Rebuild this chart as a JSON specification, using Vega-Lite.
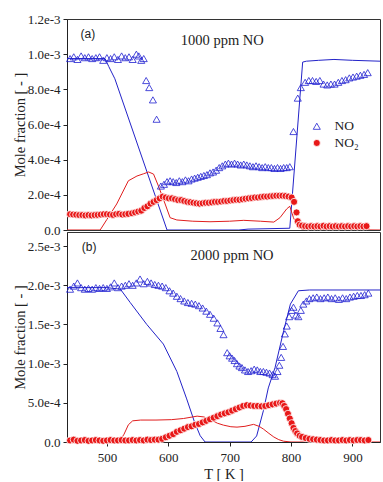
{
  "$schema": "https://vega.github.io/schema/vega-lite/v6.json",
  "padding": {"left": 11, "top": 12, "right": 0, "bottom": 0},
  "background": "white",
  "spacing": 2,
  "bounds": "flush",
  "config": {
    "view": {"stroke": "#333", "strokeWidth": 1},
    "axis": {"labelFont": "Liberation Serif", "titleFont": "Liberation Serif", "labelFontSize": 13, "titleFontSize": 14.5, "titleFontWeight": "normal", "labelColor": "#222", "titleColor": "#222", "domainColor": "#222", "tickColor": "#222", "grid": false, "tickSize": 4}
  },
  "resolve": {
    "scale": {"fill": "independent", "stroke": "independent", "shape": "independent", "color": "independent"}
  },
  "datasets": {
    "aM": [
      {"s":"NO","T":435,"v":0.975e-3},{"s":"NO","T":497,"v":0.975e-3},{"s":"NO","T":503,"v":0.93e-3},{"s":"NO","T":513,"v":0.86e-3},{"s":"NO","T":598,"v":0},{"s":"NO","T":715,"v":0},{"s":"NO","T":730,"v":0.005e-3},{"s":"NO","T":798,"v":0.01e-3},{"s":"NO","T":819,"v":0.955e-3},{"s":"NO","T":825,"v":0.96e-3},{"s":"NO","T":845,"v":0.965e-3},{"s":"NO","T":870,"v":0.97e-3},{"s":"NO","T":900,"v":0.965e-3},{"s":"NO","T":945,"v":0.96e-3},
      {"s":"NO₂","T":435,"v":0},{"s":"NO₂","T":489,"v":0},{"s":"NO₂","T":500,"v":0.06e-3},{"s":"NO₂","T":516,"v":0.148e-3},{"s":"NO₂","T":535,"v":0.28e-3},{"s":"NO₂","T":549,"v":0.307e-3},{"s":"NO₂","T":560,"v":0.32e-3},{"s":"NO₂","T":568,"v":0.33e-3},{"s":"NO₂","T":576,"v":0.318e-3},{"s":"NO₂","T":584,"v":0.25e-3},{"s":"NO₂","T":592,"v":0.176e-3},{"s":"NO₂","T":603,"v":0.07e-3},{"s":"NO₂","T":614,"v":0.057e-3},{"s":"NO₂","T":640,"v":0.05e-3},{"s":"NO₂","T":668,"v":0.047e-3},{"s":"NO₂","T":700,"v":0.05e-3},{"s":"NO₂","T":723,"v":0.055e-3},{"s":"NO₂","T":750,"v":0.05e-3},{"s":"NO₂","T":772,"v":0.045e-3},{"s":"NO₂","T":782,"v":0.07e-3},{"s":"NO₂","T":793,"v":0.12e-3},{"s":"NO₂","T":798,"v":0.135e-3},{"s":"NO₂","T":804,"v":0.07e-3},{"s":"NO₂","T":812,"v":0.013e-3},{"s":"NO₂","T":820,"v":0.003e-3},{"s":"NO₂","T":945,"v":0}
    ],
    "aE": [
      {"s":"NO","T":440,"v":0.975e-3},{"s":"NO","T":446,"v":0.985e-3},{"s":"NO","T":452,"v":0.97e-3},{"s":"NO","T":458,"v":0.99e-3},{"s":"NO","T":464,"v":0.98e-3},{"s":"NO","T":470,"v":0.985e-3},{"s":"NO","T":476,"v":0.975e-3},{"s":"NO","T":482,"v":0.98e-3},{"s":"NO","T":488,"v":0.985e-3},{"s":"NO","T":494,"v":0.965e-3},{"s":"NO","T":500,"v":0.98e-3},{"s":"NO","T":506,"v":0.975e-3},{"s":"NO","T":512,"v":0.985e-3},{"s":"NO","T":518,"v":0.97e-3},{"s":"NO","T":524,"v":0.99e-3},{"s":"NO","T":530,"v":0.98e-3},{"s":"NO","T":536,"v":0.985e-3},{"s":"NO","T":542,"v":0.97e-3},{"s":"NO","T":548,"v":1.0e-3},{"s":"NO","T":552,"v":0.99e-3},{"s":"NO","T":556,"v":0.965e-3},{"s":"NO","T":560,"v":0.975e-3},{"s":"NO","T":564,"v":0.85e-3},{"s":"NO","T":569,"v":0.81e-3},{"s":"NO","T":575,"v":0.74e-3},{"s":"NO","T":581,"v":0.63e-3},{"s":"NO","T":588,"v":0.25e-3},{"s":"NO","T":593,"v":0.26e-3},{"s":"NO","T":598,"v":0.275e-3},{"s":"NO","T":603,"v":0.28e-3},{"s":"NO","T":608,"v":0.275e-3},{"s":"NO","T":613,"v":0.27e-3},{"s":"NO","T":618,"v":0.28e-3},{"s":"NO","T":623,"v":0.275e-3},{"s":"NO","T":628,"v":0.285e-3},{"s":"NO","T":633,"v":0.28e-3},{"s":"NO","T":638,"v":0.29e-3},{"s":"NO","T":643,"v":0.295e-3},{"s":"NO","T":648,"v":0.3e-3},{"s":"NO","T":653,"v":0.305e-3},{"s":"NO","T":658,"v":0.31e-3},{"s":"NO","T":663,"v":0.315e-3},{"s":"NO","T":668,"v":0.325e-3},{"s":"NO","T":673,"v":0.33e-3},{"s":"NO","T":678,"v":0.34e-3},{"s":"NO","T":683,"v":0.355e-3},{"s":"NO","T":688,"v":0.365e-3},{"s":"NO","T":693,"v":0.375e-3},{"s":"NO","T":698,"v":0.38e-3},{"s":"NO","T":703,"v":0.375e-3},{"s":"NO","T":708,"v":0.38e-3},{"s":"NO","T":713,"v":0.375e-3},{"s":"NO","T":718,"v":0.37e-3},{"s":"NO","T":723,"v":0.375e-3},{"s":"NO","T":728,"v":0.37e-3},{"s":"NO","T":733,"v":0.365e-3},{"s":"NO","T":738,"v":0.36e-3},{"s":"NO","T":743,"v":0.365e-3},{"s":"NO","T":748,"v":0.36e-3},{"s":"NO","T":753,"v":0.355e-3},{"s":"NO","T":758,"v":0.36e-3},{"s":"NO","T":763,"v":0.355e-3},{"s":"NO","T":768,"v":0.355e-3},{"s":"NO","T":773,"v":0.35e-3},{"s":"NO","T":778,"v":0.355e-3},{"s":"NO","T":783,"v":0.35e-3},{"s":"NO","T":788,"v":0.355e-3},{"s":"NO","T":793,"v":0.355e-3},{"s":"NO","T":798,"v":0.36e-3},{"s":"NO","T":804,"v":0.56e-3},{"s":"NO","T":811,"v":0.75e-3},{"s":"NO","T":816,"v":0.81e-3},{"s":"NO","T":823,"v":0.84e-3},{"s":"NO","T":829,"v":0.85e-3},{"s":"NO","T":835,"v":0.85e-3},{"s":"NO","T":841,"v":0.845e-3},{"s":"NO","T":847,"v":0.85e-3},{"s":"NO","T":853,"v":0.83e-3},{"s":"NO","T":859,"v":0.825e-3},{"s":"NO","T":865,"v":0.83e-3},{"s":"NO","T":871,"v":0.83e-3},{"s":"NO","T":877,"v":0.84e-3},{"s":"NO","T":883,"v":0.85e-3},{"s":"NO","T":889,"v":0.855e-3},{"s":"NO","T":895,"v":0.865e-3},{"s":"NO","T":901,"v":0.87e-3},{"s":"NO","T":907,"v":0.875e-3},{"s":"NO","T":913,"v":0.88e-3},{"s":"NO","T":919,"v":0.885e-3},{"s":"NO","T":925,"v":0.895e-3},
      {"s":"NO₂","T":440,"v":0.09e-3},{"s":"NO₂","T":445,"v":0.088e-3},{"s":"NO₂","T":450,"v":0.087e-3},{"s":"NO₂","T":455,"v":0.085e-3},{"s":"NO₂","T":460,"v":0.085e-3},{"s":"NO₂","T":465,"v":0.083e-3},{"s":"NO₂","T":470,"v":0.085e-3},{"s":"NO₂","T":475,"v":0.083e-3},{"s":"NO₂","T":480,"v":0.085e-3},{"s":"NO₂","T":485,"v":0.086e-3},{"s":"NO₂","T":490,"v":0.088e-3},{"s":"NO₂","T":495,"v":0.09e-3},{"s":"NO₂","T":500,"v":0.09e-3},{"s":"NO₂","T":505,"v":0.088e-3},{"s":"NO₂","T":510,"v":0.086e-3},{"s":"NO₂","T":515,"v":0.09e-3},{"s":"NO₂","T":520,"v":0.092e-3},{"s":"NO₂","T":525,"v":0.088e-3},{"s":"NO₂","T":530,"v":0.09e-3},{"s":"NO₂","T":535,"v":0.092e-3},{"s":"NO₂","T":541,"v":0.095e-3},{"s":"NO₂","T":546,"v":0.1e-3},{"s":"NO₂","T":551,"v":0.105e-3},{"s":"NO₂","T":556,"v":0.11e-3},{"s":"NO₂","T":561,"v":0.125e-3},{"s":"NO₂","T":566,"v":0.135e-3},{"s":"NO₂","T":571,"v":0.15e-3},{"s":"NO₂","T":576,"v":0.16e-3},{"s":"NO₂","T":581,"v":0.17e-3},{"s":"NO₂","T":586,"v":0.18e-3},{"s":"NO₂","T":591,"v":0.19e-3},{"s":"NO₂","T":596,"v":0.185e-3},{"s":"NO₂","T":601,"v":0.18e-3},{"s":"NO₂","T":606,"v":0.18e-3},{"s":"NO₂","T":611,"v":0.175e-3},{"s":"NO₂","T":616,"v":0.17e-3},{"s":"NO₂","T":621,"v":0.17e-3},{"s":"NO₂","T":626,"v":0.165e-3},{"s":"NO₂","T":631,"v":0.16e-3},{"s":"NO₂","T":636,"v":0.158e-3},{"s":"NO₂","T":641,"v":0.155e-3},{"s":"NO₂","T":646,"v":0.152e-3},{"s":"NO₂","T":651,"v":0.15e-3},{"s":"NO₂","T":656,"v":0.152e-3},{"s":"NO₂","T":661,"v":0.155e-3},{"s":"NO₂","T":666,"v":0.155e-3},{"s":"NO₂","T":671,"v":0.157e-3},{"s":"NO₂","T":676,"v":0.16e-3},{"s":"NO₂","T":681,"v":0.16e-3},{"s":"NO₂","T":686,"v":0.162e-3},{"s":"NO₂","T":691,"v":0.165e-3},{"s":"NO₂","T":696,"v":0.165e-3},{"s":"NO₂","T":701,"v":0.168e-3},{"s":"NO₂","T":706,"v":0.17e-3},{"s":"NO₂","T":711,"v":0.172e-3},{"s":"NO₂","T":716,"v":0.172e-3},{"s":"NO₂","T":721,"v":0.175e-3},{"s":"NO₂","T":726,"v":0.178e-3},{"s":"NO₂","T":731,"v":0.18e-3},{"s":"NO₂","T":736,"v":0.182e-3},{"s":"NO₂","T":741,"v":0.185e-3},{"s":"NO₂","T":746,"v":0.185e-3},{"s":"NO₂","T":751,"v":0.188e-3},{"s":"NO₂","T":756,"v":0.19e-3},{"s":"NO₂","T":761,"v":0.19e-3},{"s":"NO₂","T":766,"v":0.192e-3},{"s":"NO₂","T":771,"v":0.193e-3},{"s":"NO₂","T":776,"v":0.195e-3},{"s":"NO₂","T":781,"v":0.195e-3},{"s":"NO₂","T":786,"v":0.195e-3},{"s":"NO₂","T":791,"v":0.193e-3},{"s":"NO₂","T":796,"v":0.19e-3},{"s":"NO₂","T":801,"v":0.185e-3},{"s":"NO₂","T":805,"v":0.16e-3},{"s":"NO₂","T":809,"v":0.1e-3},{"s":"NO₂","T":811,"v":0.05e-3},{"s":"NO₂","T":814,"v":0.03e-3},{"s":"NO₂","T":818,"v":0.025e-3},{"s":"NO₂","T":823,"v":0.022e-3},{"s":"NO₂","T":828,"v":0.02e-3},{"s":"NO₂","T":833,"v":0.022e-3},{"s":"NO₂","T":838,"v":0.02e-3},{"s":"NO₂","T":843,"v":0.022e-3},{"s":"NO₂","T":848,"v":0.02e-3},{"s":"NO₂","T":853,"v":0.024e-3},{"s":"NO₂","T":858,"v":0.02e-3},{"s":"NO₂","T":863,"v":0.022e-3},{"s":"NO₂","T":868,"v":0.02e-3},{"s":"NO₂","T":873,"v":0.022e-3},{"s":"NO₂","T":878,"v":0.02e-3},{"s":"NO₂","T":883,"v":0.022e-3},{"s":"NO₂","T":888,"v":0.02e-3},{"s":"NO₂","T":893,"v":0.022e-3},{"s":"NO₂","T":898,"v":0.02e-3},{"s":"NO₂","T":903,"v":0.022e-3},{"s":"NO₂","T":908,"v":0.02e-3},{"s":"NO₂","T":913,"v":0.022e-3},{"s":"NO₂","T":918,"v":0.02e-3},{"s":"NO₂","T":923,"v":0.022e-3}
    ],
    "aL": [{"s":"NO","T":842,"v":0.59e-3},{"s":"NO₂","T":842,"v":0.495e-3}],
    "aLT": [{"T":871,"v":0.59e-3,"label":"NO"},{"T":871,"v":0.495e-3,"label":"NO₂"}],
    "bM": [
      {"s":"NO","T":435,"v":1.97e-3},{"s":"NO","T":500,"v":1.97e-3},{"s":"NO","T":522,"v":1.95e-3},{"s":"NO","T":538,"v":1.78e-3},{"s":"NO","T":565,"v":1.5e-3},{"s":"NO","T":592,"v":1.25e-3},{"s":"NO","T":614,"v":0.9e-3},{"s":"NO","T":630,"v":0.55e-3},{"s":"NO","T":643,"v":0.25e-3},{"s":"NO","T":652,"v":0.08e-3},{"s":"NO","T":660,"v":0},{"s":"NO","T":735,"v":0},{"s":"NO","T":744,"v":0.077e-3},{"s":"NO","T":755,"v":0.4e-3},{"s":"NO","T":763,"v":0.69e-3},{"s":"NO","T":774,"v":0.95e-3},{"s":"NO","T":788,"v":1.42e-3},{"s":"NO","T":799,"v":1.76e-3},{"s":"NO","T":812,"v":1.93e-3},{"s":"NO","T":830,"v":1.94e-3},{"s":"NO","T":945,"v":1.94e-3},
      {"s":"NO₂","T":435,"v":0},{"s":"NO₂","T":520,"v":0},{"s":"NO₂","T":528,"v":0.1e-3},{"s":"NO₂","T":535,"v":0.22e-3},{"s":"NO₂","T":542,"v":0.27e-3},{"s":"NO₂","T":555,"v":0.28e-3},{"s":"NO₂","T":580,"v":0.28e-3},{"s":"NO₂","T":605,"v":0.285e-3},{"s":"NO₂","T":625,"v":0.3e-3},{"s":"NO₂","T":647,"v":0.33e-3},{"s":"NO₂","T":658,"v":0.32e-3},{"s":"NO₂","T":668,"v":0.29e-3},{"s":"NO₂","T":680,"v":0.24e-3},{"s":"NO₂","T":690,"v":0.215e-3},{"s":"NO₂","T":702,"v":0.195e-3},{"s":"NO₂","T":712,"v":0.19e-3},{"s":"NO₂","T":725,"v":0.2e-3},{"s":"NO₂","T":739,"v":0.225e-3},{"s":"NO₂","T":748,"v":0.2e-3},{"s":"NO₂","T":755,"v":0.165e-3},{"s":"NO₂","T":764,"v":0.11e-3},{"s":"NO₂","T":772,"v":0.064e-3},{"s":"NO₂","T":780,"v":0.03e-3},{"s":"NO₂","T":788,"v":0.01e-3},{"s":"NO₂","T":800,"v":0},{"s":"NO₂","T":945,"v":0}
    ],
    "bE": [
      {"s":"NO","T":440,"v":1.95e-3},{"s":"NO","T":446,"v":1.99e-3},{"s":"NO","T":452,"v":2.03e-3},{"s":"NO","T":458,"v":1.97e-3},{"s":"NO","T":464,"v":1.95e-3},{"s":"NO","T":470,"v":1.96e-3},{"s":"NO","T":476,"v":1.95e-3},{"s":"NO","T":482,"v":1.97e-3},{"s":"NO","T":488,"v":1.96e-3},{"s":"NO","T":494,"v":1.97e-3},{"s":"NO","T":500,"v":1.96e-3},{"s":"NO","T":506,"v":1.98e-3},{"s":"NO","T":512,"v":2.03e-3},{"s":"NO","T":518,"v":1.97e-3},{"s":"NO","T":524,"v":1.99e-3},{"s":"NO","T":530,"v":2.0e-3},{"s":"NO","T":536,"v":2.02e-3},{"s":"NO","T":542,"v":2.0e-3},{"s":"NO","T":548,"v":2.03e-3},{"s":"NO","T":554,"v":2.08e-3},{"s":"NO","T":560,"v":2.02e-3},{"s":"NO","T":566,"v":2.05e-3},{"s":"NO","T":572,"v":2.03e-3},{"s":"NO","T":578,"v":2.01e-3},{"s":"NO","T":584,"v":2.0e-3},{"s":"NO","T":590,"v":1.99e-3},{"s":"NO","T":596,"v":1.97e-3},{"s":"NO","T":602,"v":1.93e-3},{"s":"NO","T":608,"v":1.9e-3},{"s":"NO","T":614,"v":1.86e-3},{"s":"NO","T":620,"v":1.83e-3},{"s":"NO","T":626,"v":1.8e-3},{"s":"NO","T":632,"v":1.78e-3},{"s":"NO","T":638,"v":1.77e-3},{"s":"NO","T":644,"v":1.76e-3},{"s":"NO","T":650,"v":1.74e-3},{"s":"NO","T":656,"v":1.71e-3},{"s":"NO","T":662,"v":1.67e-3},{"s":"NO","T":668,"v":1.63e-3},{"s":"NO","T":674,"v":1.58e-3},{"s":"NO","T":680,"v":1.52e-3},{"s":"NO","T":685,"v":1.45e-3},{"s":"NO","T":690,"v":1.37e-3},{"s":"NO","T":696,"v":1.14e-3},{"s":"NO","T":700,"v":1.1e-3},{"s":"NO","T":704,"v":1.07e-3},{"s":"NO","T":708,"v":1.04e-3},{"s":"NO","T":712,"v":1.0e-3},{"s":"NO","T":716,"v":0.97e-3},{"s":"NO","T":720,"v":0.95e-3},{"s":"NO","T":725,"v":0.92e-3},{"s":"NO","T":730,"v":0.9e-3},{"s":"NO","T":735,"v":0.91e-3},{"s":"NO","T":740,"v":0.93e-3},{"s":"NO","T":745,"v":0.92e-3},{"s":"NO","T":750,"v":0.9e-3},{"s":"NO","T":755,"v":0.9e-3},{"s":"NO","T":760,"v":0.89e-3},{"s":"NO","T":765,"v":0.88e-3},{"s":"NO","T":770,"v":0.86e-3},{"s":"NO","T":774,"v":0.84e-3},{"s":"NO","T":778,"v":0.9e-3},{"s":"NO","T":781,"v":0.98e-3},{"s":"NO","T":784,"v":1.08e-3},{"s":"NO","T":787,"v":1.22e-3},{"s":"NO","T":790,"v":1.38e-3},{"s":"NO","T":793,"v":1.48e-3},{"s":"NO","T":797,"v":1.6e-3},{"s":"NO","T":801,"v":1.68e-3},{"s":"NO","T":804,"v":1.72e-3},{"s":"NO","T":808,"v":1.62e-3},{"s":"NO","T":812,"v":1.6e-3},{"s":"NO","T":816,"v":1.68e-3},{"s":"NO","T":820,"v":1.76e-3},{"s":"NO","T":825,"v":1.8e-3},{"s":"NO","T":830,"v":1.83e-3},{"s":"NO","T":836,"v":1.84e-3},{"s":"NO","T":842,"v":1.85e-3},{"s":"NO","T":848,"v":1.83e-3},{"s":"NO","T":854,"v":1.84e-3},{"s":"NO","T":860,"v":1.85e-3},{"s":"NO","T":866,"v":1.83e-3},{"s":"NO","T":872,"v":1.84e-3},{"s":"NO","T":878,"v":1.82e-3},{"s":"NO","T":884,"v":1.84e-3},{"s":"NO","T":890,"v":1.83e-3},{"s":"NO","T":896,"v":1.85e-3},{"s":"NO","T":902,"v":1.86e-3},{"s":"NO","T":908,"v":1.87e-3},{"s":"NO","T":914,"v":1.87e-3},{"s":"NO","T":920,"v":1.88e-3},{"s":"NO","T":926,"v":1.9e-3},
      {"s":"NO₂","T":440,"v":0.02e-3},{"s":"NO₂","T":446,"v":0.03e-3},{"s":"NO₂","T":452,"v":0.015e-3},{"s":"NO₂","T":458,"v":0.02e-3},{"s":"NO₂","T":464,"v":0.025e-3},{"s":"NO₂","T":470,"v":0.015e-3},{"s":"NO₂","T":476,"v":0.02e-3},{"s":"NO₂","T":482,"v":0.025e-3},{"s":"NO₂","T":488,"v":0.02e-3},{"s":"NO₂","T":494,"v":0.015e-3},{"s":"NO₂","T":500,"v":0.02e-3},{"s":"NO₂","T":506,"v":0.025e-3},{"s":"NO₂","T":512,"v":0.02e-3},{"s":"NO₂","T":518,"v":0.02e-3},{"s":"NO₂","T":524,"v":0.025e-3},{"s":"NO₂","T":530,"v":0.02e-3},{"s":"NO₂","T":536,"v":0.02e-3},{"s":"NO₂","T":542,"v":0.025e-3},{"s":"NO₂","T":548,"v":0.02e-3},{"s":"NO₂","T":554,"v":0.025e-3},{"s":"NO₂","T":560,"v":0.02e-3},{"s":"NO₂","T":566,"v":0.03e-3},{"s":"NO₂","T":572,"v":0.025e-3},{"s":"NO₂","T":578,"v":0.03e-3},{"s":"NO₂","T":584,"v":0.03e-3},{"s":"NO₂","T":590,"v":0.04e-3},{"s":"NO₂","T":596,"v":0.06e-3},{"s":"NO₂","T":602,"v":0.08e-3},{"s":"NO₂","T":608,"v":0.1e-3},{"s":"NO₂","T":614,"v":0.13e-3},{"s":"NO₂","T":620,"v":0.15e-3},{"s":"NO₂","T":626,"v":0.17e-3},{"s":"NO₂","T":632,"v":0.19e-3},{"s":"NO₂","T":638,"v":0.2e-3},{"s":"NO₂","T":644,"v":0.22e-3},{"s":"NO₂","T":650,"v":0.23e-3},{"s":"NO₂","T":656,"v":0.25e-3},{"s":"NO₂","T":662,"v":0.27e-3},{"s":"NO₂","T":668,"v":0.29e-3},{"s":"NO₂","T":674,"v":0.31e-3},{"s":"NO₂","T":680,"v":0.33e-3},{"s":"NO₂","T":686,"v":0.35e-3},{"s":"NO₂","T":692,"v":0.365e-3},{"s":"NO₂","T":698,"v":0.38e-3},{"s":"NO₂","T":704,"v":0.4e-3},{"s":"NO₂","T":710,"v":0.42e-3},{"s":"NO₂","T":716,"v":0.44e-3},{"s":"NO₂","T":722,"v":0.46e-3},{"s":"NO₂","T":728,"v":0.47e-3},{"s":"NO₂","T":734,"v":0.465e-3},{"s":"NO₂","T":740,"v":0.46e-3},{"s":"NO₂","T":746,"v":0.46e-3},{"s":"NO₂","T":752,"v":0.455e-3},{"s":"NO₂","T":758,"v":0.46e-3},{"s":"NO₂","T":764,"v":0.47e-3},{"s":"NO₂","T":770,"v":0.48e-3},{"s":"NO₂","T":776,"v":0.49e-3},{"s":"NO₂","T":782,"v":0.5e-3},{"s":"NO₂","T":786,"v":0.495e-3},{"s":"NO₂","T":789,"v":0.46e-3},{"s":"NO₂","T":792,"v":0.42e-3},{"s":"NO₂","T":795,"v":0.36e-3},{"s":"NO₂","T":798,"v":0.3e-3},{"s":"NO₂","T":801,"v":0.24e-3},{"s":"NO₂","T":804,"v":0.18e-3},{"s":"NO₂","T":807,"v":0.14e-3},{"s":"NO₂","T":810,"v":0.11e-3},{"s":"NO₂","T":814,"v":0.08e-3},{"s":"NO₂","T":818,"v":0.065e-3},{"s":"NO₂","T":824,"v":0.05e-3},{"s":"NO₂","T":830,"v":0.04e-3},{"s":"NO₂","T":836,"v":0.035e-3},{"s":"NO₂","T":842,"v":0.03e-3},{"s":"NO₂","T":848,"v":0.025e-3},{"s":"NO₂","T":854,"v":0.02e-3},{"s":"NO₂","T":860,"v":0.02e-3},{"s":"NO₂","T":866,"v":0.025e-3},{"s":"NO₂","T":872,"v":0.02e-3},{"s":"NO₂","T":878,"v":0.02e-3},{"s":"NO₂","T":884,"v":0.025e-3},{"s":"NO₂","T":890,"v":0.02e-3},{"s":"NO₂","T":896,"v":0.025e-3},{"s":"NO₂","T":902,"v":0.02e-3},{"s":"NO₂","T":908,"v":0.025e-3},{"s":"NO₂","T":914,"v":0.025e-3},{"s":"NO₂","T":920,"v":0.02e-3},{"s":"NO₂","T":926,"v":0.025e-3}
    ],
    "aT1": [{"T":469,"v":1.115e-3,"label":"(a)"}],
    "aT2": [{"T":688,"v":1.075e-3,"label":"1000 ppm NO"}],
    "bT1": [{"T":471,"v":2.49e-3,"label":"(b)"}],
    "bT2": [{"T":704,"v":2.37e-3,"label":"2000 ppm NO"}]
  },
  "vconcat": [
    {
      "width": 313,
      "height": 211,
      "encoding": {
        "x": {"field": "T", "type": "quantitative", "scale": {"domain": [435, 945], "nice": false, "zero": false}, "axis": null},
        "y": {"field": "v", "type": "quantitative", "scale": {"domain": [0, 0.0012], "nice": false}, "axis": {"values": [0, 0.0002, 0.0004, 0.0006, 0.0008, 0.001, 0.0012], "labelExpr": "datum.value == 0 ? '0.0' : format(datum.value, '.1e')", "title": "Mole fraction [ - ]", "titlePadding": 0, "labelPadding": 3}}
      },
      "layer": [
        {
          "data": {"name": "aM"},
          "mark": {"type": "line", "strokeWidth": 1, "clip": true},
          "encoding": {"color": {"field": "s", "type": "nominal", "scale": {"domain": ["NO", "NO₂"], "range": ["#2323c8", "#e01e1e"]}, "legend": null}}
        },
        {
          "data": {"name": "aE"},
          "mark": {"type": "point", "filled": true, "strokeWidth": 0.8, "size": 50, "opacity": 1},
          "encoding": {
            "shape": {"field": "s", "type": "nominal", "scale": {"domain": ["NO", "NO₂"], "range": ["triangle-up", "circle"]}, "legend": null},
            "fill": {"field": "s", "type": "nominal", "scale": {"domain": ["NO", "NO₂"], "range": ["transparent", "#e81818"]}, "legend": null},
            "stroke": {"field": "s", "type": "nominal", "scale": {"domain": ["NO", "NO₂"], "range": ["#1f1fd0", "#ffffff"]}, "legend": null}
          }
        },
        {
          "data": {"name": "aL"},
          "mark": {"type": "point", "filled": true, "strokeWidth": 0.8, "size": 50, "opacity": 1},
          "encoding": {
            "shape": {"field": "s", "type": "nominal", "scale": {"domain": ["NO", "NO₂"], "range": ["triangle-up", "circle"]}, "legend": null},
            "fill": {"field": "s", "type": "nominal", "scale": {"domain": ["NO", "NO₂"], "range": ["transparent", "#e81818"]}, "legend": null},
            "stroke": {"field": "s", "type": "nominal", "scale": {"domain": ["NO", "NO₂"], "range": ["#1f1fd0", "#ffffff"]}, "legend": null}
          }
        },
        {
          "data": {"name": "aLT"},
          "mark": {"type": "text", "font": "Liberation Serif", "fontSize": 13.5, "color": "#222", "align": "left", "baseline": "middle"},
          "encoding": {"text": {"field": "label"}}
        },
        {
          "data": {"name": "aT1"},
          "mark": {"type": "text", "font": "Liberation Sans", "fontSize": 12, "color": "#222"},
          "encoding": {"text": {"field": "label"}}
        },
        {
          "data": {"name": "aT2"},
          "mark": {"type": "text", "font": "Liberation Serif", "fontSize": 14.5, "color": "#222"},
          "encoding": {"text": {"field": "label"}}
        }
      ]
    },
    {
      "width": 313,
      "height": 210,
      "encoding": {
        "x": {"field": "T", "type": "quantitative", "scale": {"domain": [435, 945], "nice": false, "zero": false}, "axis": {"values": [500, 600, 700, 800, 900], "title": "T [ K ]", "labelPadding": 5, "titlePadding": 3}},
        "y": {"field": "v", "type": "quantitative", "scale": {"domain": [0, 0.00268], "nice": false}, "axis": {"values": [0, 0.0005, 0.001, 0.0015, 0.002, 0.0025], "labelExpr": "datum.value == 0 ? '0.0' : format(datum.value, '.1e')", "title": "Mole fraction [ - ]", "titlePadding": 0, "labelPadding": 3}}
      },
      "layer": [
        {
          "data": {"name": "bM"},
          "mark": {"type": "line", "strokeWidth": 1, "clip": true},
          "encoding": {"color": {"field": "s", "type": "nominal", "scale": {"domain": ["NO", "NO₂"], "range": ["#2323c8", "#e01e1e"]}, "legend": null}}
        },
        {
          "data": {"name": "bE"},
          "mark": {"type": "point", "filled": true, "strokeWidth": 0.8, "size": 50, "opacity": 1},
          "encoding": {
            "shape": {"field": "s", "type": "nominal", "scale": {"domain": ["NO", "NO₂"], "range": ["triangle-up", "circle"]}, "legend": null},
            "fill": {"field": "s", "type": "nominal", "scale": {"domain": ["NO", "NO₂"], "range": ["transparent", "#e81818"]}, "legend": null},
            "stroke": {"field": "s", "type": "nominal", "scale": {"domain": ["NO", "NO₂"], "range": ["#1f1fd0", "#ffffff"]}, "legend": null}
          }
        },
        {
          "data": {"name": "bT1"},
          "mark": {"type": "text", "font": "Liberation Sans", "fontSize": 12, "color": "#222"},
          "encoding": {"text": {"field": "label"}}
        },
        {
          "data": {"name": "bT2"},
          "mark": {"type": "text", "font": "Liberation Serif", "fontSize": 14.5, "color": "#222"},
          "encoding": {"text": {"field": "label"}}
        }
      ]
    }
  ]
}
